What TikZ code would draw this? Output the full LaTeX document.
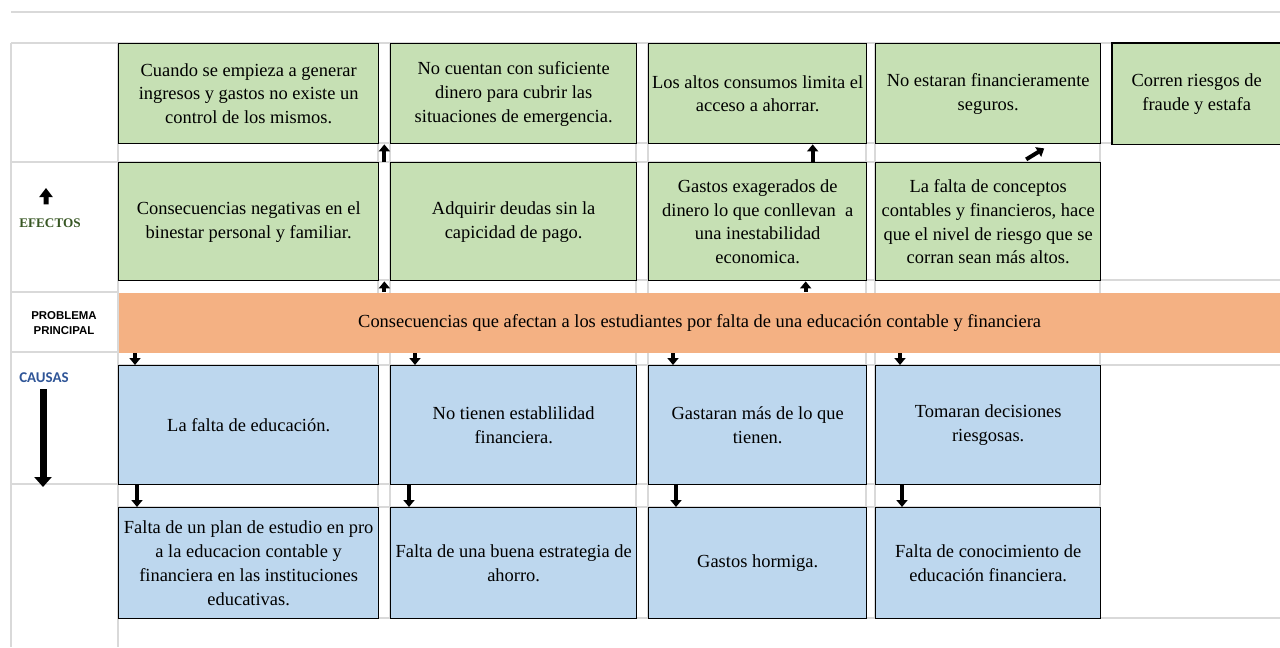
\documentclass[tikz,border=0pt]{standalone}
\usepackage{fontspec}
\setmainfont{Liberation Serif}
\newfontfamily\arialfont{Liberation Sans}
\newfontfamily\calibrifont{Carlito}
\usetikzlibrary{arrows.meta}
\definecolor{efegreen}{RGB}{198,224,180}
\definecolor{caublue}{RGB}{189,215,238}
\definecolor{proborange}{RGB}{244,177,131}
\definecolor{gridgray}{RGB}{217,217,217}
\definecolor{efetext}{RGB}{55,86,35}
\definecolor{cautext}{RGB}{47,85,151}
\tikzset{
  cell/.style={draw=black, line width=0.8pt, align=center, anchor=north west,
    inner sep=1pt, font=\fontsize{10.5}{13.6}\selectfont},
  efe/.style={cell, fill=efegreen},
  cau/.style={cell, fill=caublue},
  blk/.style={line width=0.08cm, -{Triangle[width=0.22cm,length=0.14cm]}},
  midblk/.style={line width=0.1cm, -{Triangle[width=0.26cm,length=0.18cm]}},
  bigblk/.style={line width=0.14cm, -{Triangle[width=0.34cm,length=0.2cm]}},
  gridline/.style={draw=gridgray, line width=0.6pt}
}

\begin{document}
\begin{tikzpicture}[x=0.02cm, y=-0.02cm]
   \useasboundingbox (0,0) rectangle (1280,647);
   % sheet grid
   \draw[gridline] (11,12) -- (1280,12);
   \draw[gridline] (11,43) -- (11,647);
   \draw[gridline] (118,43) -- (118,647);
   \foreach \y in {43,162,292,352,484} \draw[gridline] (11,\y) -- (118,\y);
   \foreach \y in {43,280,365,618} \draw[gridline] (118,\y) -- (1280,\y);
   \draw[gridline] (118,143) -- (1112,143);
   \foreach \y in {162,484,507} \draw[gridline] (118,\y) -- (1100,\y);
   \foreach \x in {378,390,636,648,866,875,1100} \draw[gridline] (\x,43) -- (\x,618);

   % efectos
   \node[efe, minimum width=5.2cm, minimum height=2cm] (a1) at (118,43)
     {Cuando se empieza a generar\\ingresos y gastos no existe un\\control de los mismos.};
   \node[efe, minimum width=4.92cm, minimum height=2cm] (b1) at (390,43)
     {No cuentan con suficiente\\dinero para cubrir las\\situaciones de emergencia.};
   \node[efe, minimum width=4.36cm, minimum height=2cm] (c1) at (648,43)
     {Los altos consumos limita el\\acceso a ahorrar.};
   \node[efe, minimum width=4.5cm, minimum height=2cm] (d1) at (875,43)
     {No estaran financieramente\\seguros.};
   \node[efe, draw=none, minimum width=3.36cm, minimum height=2cm] (e1) at (1112,43)
     {Corren riesgos de\\fraude y estafa};
   \draw[line width=0.7pt] (e1.north east) -- (e1.north west) -- (e1.south west) -- (e1.south east);

   \node[efe, minimum width=5.2cm, minimum height=2.36cm] (a2) at (118,162)
     {Consecuencias negativas en el\\binestar personal y familiar.};
   \node[efe, minimum width=4.92cm, minimum height=2.36cm] (b2) at (390,162)
     {Adquirir deudas sin la\\capicidad de pago.};
   \node[efe, minimum width=4.36cm, minimum height=2.36cm] (c2) at (648,162)
     {Gastos exagerados de\\dinero lo que conllevan\ \ a\\una inestabilidad\\economica.};
   \node[efe, minimum width=4.5cm, minimum height=2.36cm] (d2) at (875,162)
     {La falta de conceptos\\contables y financieros, hace\\que el nivel de riesgo que se\\corran sean más altos.};

   % problema
   \node[cell, draw=none, fill=proborange, minimum width=23.24cm, minimum height=1.2cm] (prob) at (118,292)
     {Consecuencias que afectan a los estudiantes por falta de una educación contable y financiera};

   % causas
   \node[cau, minimum width=5.2cm, minimum height=2.38cm] (a3) at (118,365)
     {La falta de educación.};
   \node[cau, minimum width=4.92cm, minimum height=2.38cm] (b3) at (390,365)
     {No tienen establilidad\\financiera.};
   \node[cau, minimum width=4.36cm, minimum height=2.38cm] (c3) at (648,365)
     {Gastaran más de lo que\\tienen.};
   \node[cau, minimum width=4.5cm, minimum height=2.38cm] (d3) at (875,365)
     {Tomaran decisiones\\riesgosas.};

   \node[cau, minimum width=5.2cm, minimum height=2.22cm] (a4) at (118,507)
     {Falta de un plan de estudio en pro\\a la educacion contable y\\financiera en las instituciones\\educativas.};
   \node[cau, minimum width=4.92cm, minimum height=2.22cm] (b4) at (390,507)
     {Falta de una buena estrategia de\\ahorro.};
   \node[cau, minimum width=4.36cm, minimum height=2.22cm] (c4) at (648,507)
     {Gastos hormiga.};
   \node[cau, minimum width=4.5cm, minimum height=2.22cm] (d4) at (875,507)
     {Falta de conocimiento de\\educación financiera.};

   % left labels
   \node[font=\fontsize{7.5}{9}\selectfont\bfseries, text=efetext] (efectos) at (50,223) {EFECTOS};
   \coordinate (efetop) at (46,188);
   \draw[midblk] ([xshift=-0.08cm,yshift=0.16cm]efectos.north) -- (efetop);
   \node[font=\arialfont\fontsize{6.5}{8.5}\selectfont\bfseries, align=center] (problabel) at (64,323)
     {PROBLEMA\\PRINCIPAL};
   \node[font=\calibrifont\fontsize{8.5}{10}\selectfont\bfseries, text=cautext] (causas) at (44,378) {CAUSAS};
   \coordinate (caubot) at (43,487);
   \draw[bigblk] ([xshift=-0.02cm]causas.south) -- (caubot);

   % arrows up
   \draw[blk] ([xshift=0.1cm]a2.north east) -- ([xshift=0.1cm]a1.south east);
   \draw[blk] ([xshift=0.1cm]a2.south east |- prob.north) -- ([xshift=0.1cm]a2.south east);
   \draw[blk] ([xshift=1.1cm]c2.north) -- ([xshift=1.1cm]c1.south);
   \draw[blk] ([xshift=0.96cm]c2.south |- prob.north) -- ([xshift=0.96cm]c2.south);
   \draw[blk] ([shift={(38,15)}]d1.south) -- ([shift={(56,4)}]d1.south);

   % arrows down
   \draw[blk] ([xshift=0.34cm]a3.north west |- prob.south) -- ([xshift=0.34cm]a3.north west);
   \foreach \n in {b3,c3,d3}
     \draw[blk] ([xshift=0.5cm]\n.north west |- prob.south) -- ([xshift=0.5cm]\n.north west);
   \draw[blk] ([xshift=0.38cm]a3.south west) -- ([xshift=0.38cm]a4.north west);
   \draw[blk] ([xshift=0.38cm]b3.south west) -- ([xshift=0.38cm]b4.north west);
   \draw[blk] ([xshift=0.56cm]c3.south west) -- ([xshift=0.56cm]c4.north west);
   \draw[blk] ([xshift=0.54cm]d3.south west) -- ([xshift=0.54cm]d4.north west);
\end{tikzpicture}
\end{document}
